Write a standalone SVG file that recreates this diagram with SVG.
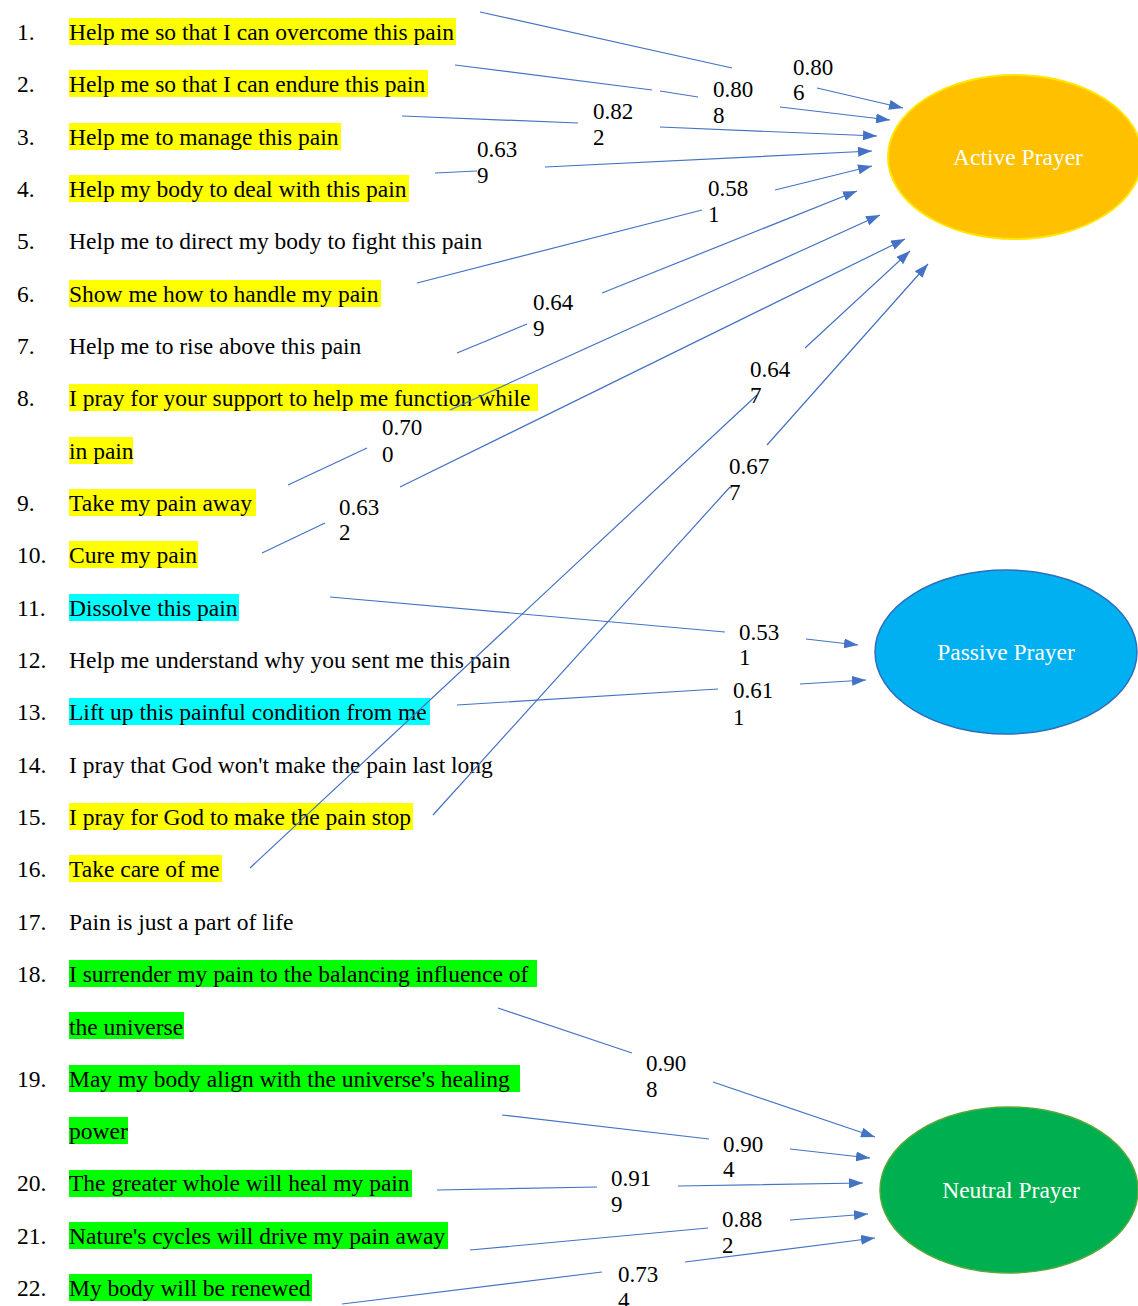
<svg xmlns="http://www.w3.org/2000/svg" width="1138" height="1306" viewBox="0 0 1138 1306">
<style>
.t{font-family:"Liberation Serif","Times New Roman",serif;font-size:23.5px;fill:#000}
.lbl{font-family:"Liberation Serif","Times New Roman",serif;font-size:23px;fill:#000}
.nt{font-family:"Liberation Serif","Times New Roman",serif;font-size:23.5px;fill:#fff;text-anchor:middle}
.y{fill:#FFFF00}.c{fill:#00FFFF}.g{fill:#00FF00}
.cn{fill:none;stroke:#4472C4;stroke-width:1.2;marker-end:url(#ah)}
</style>
<defs>
<marker id="ah" viewBox="0 0 14 10" refX="14" refY="5" markerWidth="14" markerHeight="10" markerUnits="userSpaceOnUse" orient="auto">
<path d="M0,0 L14,5 L0,10 z" fill="#4472C4"/>
</marker>
</defs>
<rect width="1138" height="1306" fill="#fff"/>
<g id="highlights">
<rect class="y" x="69" y="18" width="387" height="27"/>
<rect class="y" x="69" y="70" width="359" height="27"/>
<rect class="y" x="69" y="123" width="272" height="27"/>
<rect class="y" x="69" y="175" width="340" height="27"/>
<rect class="y" x="69" y="280" width="312" height="27"/>
<rect class="y" x="69" y="384" width="469" height="27"/>
<rect class="y" x="69" y="437" width="64" height="27"/>
<rect class="y" x="69" y="489" width="187" height="27"/>
<rect class="y" x="69" y="541" width="129" height="27"/>
<rect class="c" x="69" y="594" width="170" height="27"/>
<rect class="c" x="69" y="698" width="361" height="27"/>
<rect class="y" x="69" y="803" width="344" height="27"/>
<rect class="y" x="69" y="855" width="153" height="27"/>
<rect class="g" x="69" y="960" width="468" height="27"/>
<rect class="g" x="69" y="1012" width="115" height="27"/>
<rect class="g" x="69" y="1065" width="451" height="27"/>
<rect class="g" x="69" y="1117" width="59" height="27"/>
<rect class="g" x="69" y="1170" width="343" height="27"/>
<rect class="g" x="69" y="1222" width="379" height="27"/>
<rect class="g" x="69" y="1274" width="243" height="27"/>
</g>
<g id="items">
<g id="item1"><text class="t" x="17" y="40">1.</text><text class="t" x="69" y="40">Help me so that I can overcome this pain</text></g>
<g id="item2"><text class="t" x="17" y="92">2.</text><text class="t" x="69" y="92">Help me so that I can endure this pain</text></g>
<g id="item3"><text class="t" x="17" y="145">3.</text><text class="t" x="69" y="145">Help me to manage this pain</text></g>
<g id="item4"><text class="t" x="17" y="197">4.</text><text class="t" x="69" y="197">Help my body to deal with this pain</text></g>
<g id="item5"><text class="t" x="17" y="249">5.</text><text class="t" x="69" y="249">Help me to direct my body to fight this pain</text></g>
<g id="item6"><text class="t" x="17" y="302">6.</text><text class="t" x="69" y="302">Show me how to handle my pain</text></g>
<g id="item7"><text class="t" x="17" y="354">7.</text><text class="t" x="69" y="354">Help me to rise above this pain</text></g>
<g id="item8"><text class="t" x="17" y="406">8.</text><text class="t" x="69" y="406">I pray for your support to help me function while</text><text class="t" x="69" y="459">in pain</text></g>
<g id="item9"><text class="t" x="17" y="511">9.</text><text class="t" x="69" y="511">Take my pain away</text></g>
<g id="item10"><text class="t" x="17" y="563">10.</text><text class="t" x="69" y="563">Cure my pain</text></g>
<g id="item11"><text class="t" x="17" y="616">11.</text><text class="t" x="69" y="616">Dissolve this pain</text></g>
<g id="item12"><text class="t" x="17" y="668">12.</text><text class="t" x="69" y="668">Help me understand why you sent me this pain</text></g>
<g id="item13"><text class="t" x="17" y="720">13.</text><text class="t" x="69" y="720">Lift up this painful condition from me</text></g>
<g id="item14"><text class="t" x="17" y="773">14.</text><text class="t" x="69" y="773">I pray that God won't make the pain last long</text></g>
<g id="item15"><text class="t" x="17" y="825">15.</text><text class="t" x="69" y="825">I pray for God to make the pain stop</text></g>
<g id="item16"><text class="t" x="17" y="877">16.</text><text class="t" x="69" y="877">Take care of me</text></g>
<g id="item17"><text class="t" x="17" y="930">17.</text><text class="t" x="69" y="930">Pain is just a part of life</text></g>
<g id="item18"><text class="t" x="17" y="982">18.</text><text class="t" x="69" y="982">I surrender my pain to the balancing influence of</text><text class="t" x="69" y="1035">the universe</text></g>
<g id="item19"><text class="t" x="17" y="1087">19.</text><text class="t" x="69" y="1087">May my body align with the universe's healing</text><text class="t" x="69" y="1139">power</text></g>
<g id="item20"><text class="t" x="17" y="1191">20.</text><text class="t" x="69" y="1191">The greater whole will heal my pain</text></g>
<g id="item21"><text class="t" x="17" y="1244">21.</text><text class="t" x="69" y="1244">Nature's cycles will drive my pain away</text></g>
<g id="item22"><text class="t" x="17" y="1296">22.</text><text class="t" x="69" y="1296">My body will be renewed</text></g>
</g>
<g id="active">
<ellipse cx="1015" cy="157" rx="127" ry="82" fill="#FFC000" stroke="#FFE600" stroke-width="2"/>
<text class="nt" x="1018" y="165">Active Prayer</text>
</g>
<g id="passive">
<ellipse cx="1006" cy="652" rx="131" ry="82" fill="#00B0F0" stroke="#2F6EBA" stroke-width="1.5"/>
<text class="nt" x="1006" y="660">Passive Prayer</text>
</g>
<g id="neutral">
<ellipse cx="1009" cy="1190" rx="129" ry="83" fill="#00B050" stroke="#5AA83A" stroke-width="1.5"/>
<text class="nt" x="1011" y="1198">Neutral Prayer</text>
</g>
<g id="connectors">
<path class="cn" d="M480,12 L732,68 M817,88 L903,108"/>
<path class="cn" d="M455,65 L652,90 M660,91 L698,97 M780,107 L890,120"/>
<path class="cn" d="M402,116 L578,123 M660,127 L877,136"/>
<path class="cn" d="M435,173 L477,171 M545,167 L872,151"/>
<path class="cn" d="M417,283 L702,210 M775,190 L872,166"/>
<path class="cn" d="M457,353 L527,324 M602,293 L857,191"/>
<path class="cn" d="M288,485 L367,448 M450,410 L880,215"/>
<path class="cn" d="M262,553 L325,523 M400,487 L905,239"/>
<path class="cn" d="M250,868 L757,395 M805,348 L910,251"/>
<path class="cn" d="M433,815 L730,487 M767,445 L928,264"/>
<path class="cn" d="M330,597 L725,632 M806,639 L858,645"/>
<path class="cn" d="M457,705 L718,689 M800,684 L866,680"/>
<path class="cn" d="M498,1008 L632,1053 M713,1082 L875,1137"/>
<path class="cn" d="M502,1115 L709,1139 M790,1149 L870,1158"/>
<path class="cn" d="M437,1190 L597,1187 M678,1186 L863,1183"/>
<path class="cn" d="M470,1250 L708,1228 M790,1220 L868,1214"/>
<path class="cn" d="M342,1304 L602,1272 M685,1262 L875,1238"/>
</g>
<g id="labels">
<text class="lbl" x="793" y="75">0.80</text><text class="lbl" x="793" y="100">6</text>
<text class="lbl" x="713" y="97">0.80</text><text class="lbl" x="713" y="123">8</text>
<text class="lbl" x="593" y="119">0.82</text><text class="lbl" x="593" y="145">2</text>
<text class="lbl" x="477" y="157">0.63</text><text class="lbl" x="477" y="183">9</text>
<text class="lbl" x="708" y="196">0.58</text><text class="lbl" x="708" y="222">1</text>
<text class="lbl" x="533" y="310">0.64</text><text class="lbl" x="533" y="336">9</text>
<text class="lbl" x="382" y="435">0.70</text><text class="lbl" x="382" y="462">0</text>
<text class="lbl" x="339" y="515">0.63</text><text class="lbl" x="339" y="540">2</text>
<text class="lbl" x="750" y="377">0.64</text><text class="lbl" x="750" y="403">7</text>
<text class="lbl" x="729" y="474">0.67</text><text class="lbl" x="729" y="500">7</text>
<text class="lbl" x="739" y="640">0.53</text><text class="lbl" x="739" y="665">1</text>
<text class="lbl" x="733" y="698">0.61</text><text class="lbl" x="733" y="725">1</text>
<text class="lbl" x="646" y="1071">0.90</text><text class="lbl" x="646" y="1097">8</text>
<text class="lbl" x="723" y="1152">0.90</text><text class="lbl" x="723" y="1177">4</text>
<text class="lbl" x="611" y="1186">0.91</text><text class="lbl" x="611" y="1212">9</text>
<text class="lbl" x="722" y="1227">0.88</text><text class="lbl" x="722" y="1253">2</text>
<text class="lbl" x="618" y="1282">0.73</text><text class="lbl" x="618" y="1308">4</text>
</g>
</svg>
